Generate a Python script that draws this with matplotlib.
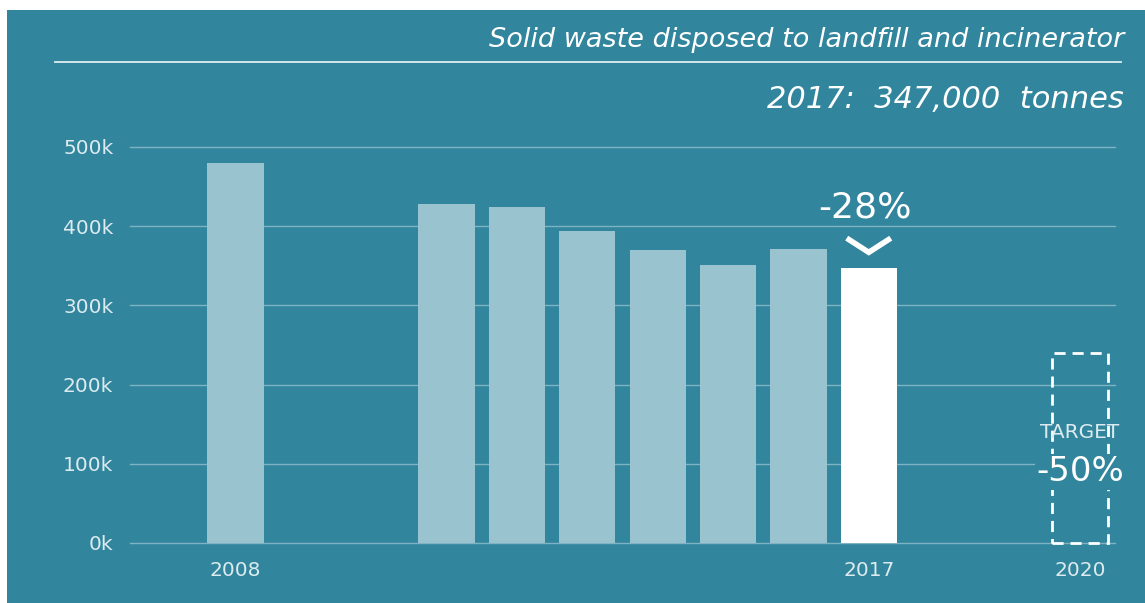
import matplotlib
matplotlib.use("Agg")
import matplotlib.pyplot as plt
from matplotlib.patches import Rectangle

# dados
anos = [2008, 2011, 2012, 2013, 2014, 2015, 2016, 2017]
toneladas = [480000, 428000, 424000, 394000, 370000, 351000, 371000, 347000]
ano_meta = 2020
meta = 240000
yticks = [0, 100000, 200000, 300000, 400000, 500000]
ytick_labels = ["0k", "100k", "200k", "300k", "400k", "500k"]
xticks = [2008, 2017, 2020]

fundo = "#31859c"
cor_barra = "#9ac3d0"
cor_texto = "#dcebf0"

plt.rcParams['font.family'] = ['DejaVu Sans']

fig = plt.figure(figsize=(11.45, 6.03), dpi=100)
fig.patch.set_facecolor("white")
fig.patches.append(Rectangle((7 / 1145, 0), 1, 593 / 603, transform=fig.transFigure,
                             facecolor=fundo, edgecolor="none", zorder=-5))

ax = fig.add_axes([130 / 1145, 60 / 603, 985 / 1145, 396 / 603])
ax.set_zorder(2)
ax.set_facecolor("none")

cores = [cor_barra] * (len(anos) - 1) + ["white"]
ax.bar(anos, toneladas, width=0.8, color=cores, zorder=2)

# meta de 2020 (caixa tracejada)
ax.add_patch(Rectangle((ano_meta - 0.4, 0), 0.8, meta, fill=False, edgecolor="white",
                       linestyle=(0, (4, 2.5)), linewidth=2, zorder=3, clip_on=False))

ax.set_xlim(2006.5, 2020.5)
ax.set_ylim(0, 500000)
ax.set_yticks(yticks)
ax.set_yticklabels(ytick_labels)
ax.set_xticks(xticks)
ax.set_xticklabels([str(a) for a in xticks])
ax.tick_params(axis="both", length=0, colors=cor_texto, labelsize=14.5)
ax.tick_params(axis="y", pad=12)
ax.tick_params(axis="x", pad=13)
for s in ax.spines.values():
    s.set_visible(False)
ax.grid(axis="y", color="#7fb3c3", linewidth=1, zorder=1)
for g in ax.get_ygridlines():
    g.set_clip_on(False)

# -28% e a setinha
ultimo = toneladas[-1]
queda = round((1 - ultimo / toneladas[0]) * 100)
ax.plot([anos[-1] - 0.28, anos[-1], anos[-1] + 0.28], [ultimo + 36000, ultimo + 20000, ultimo + 36000],
        color="white", linewidth=4, solid_joinstyle="miter", zorder=4)
ax.text(anos[-1] - 0.05, ultimo + 76000, f"-{queda}%", color="white", fontsize=26,
        ha="center", va="center", zorder=4)

ax.text(ano_meta, 140000, "TARGET", color=cor_texto, fontsize=14.5, ha="center", va="center",
        zorder=4, clip_on=False)
ax.text(ano_meta, 90000, "-50%", color="white", fontsize=24.5, ha="center", va="center", zorder=4,
        clip_on=False, bbox=dict(facecolor=fundo, edgecolor="none", pad=1))

# títulos
fig.text(1124 / 1145, 1 - 40 / 603, "Solid waste disposed to landfill and incinerator",
         color="white", fontsize=19.5, style="italic", ha="right", va="center")
fig.lines.append(plt.Line2D([55 / 1145, 1121 / 1145], [1 - 62 / 603, 1 - 62 / 603],
                            transform=fig.transFigure, color="#e0eef2", linewidth=1.3))
fig.text(1124 / 1145, 1 - 100 / 603, "2017:  347,000  tonnes", color="white", fontsize=22,
         style="italic", ha="right", va="center")

fig.savefig("out.png", dpi=100, facecolor=fig.get_facecolor())
